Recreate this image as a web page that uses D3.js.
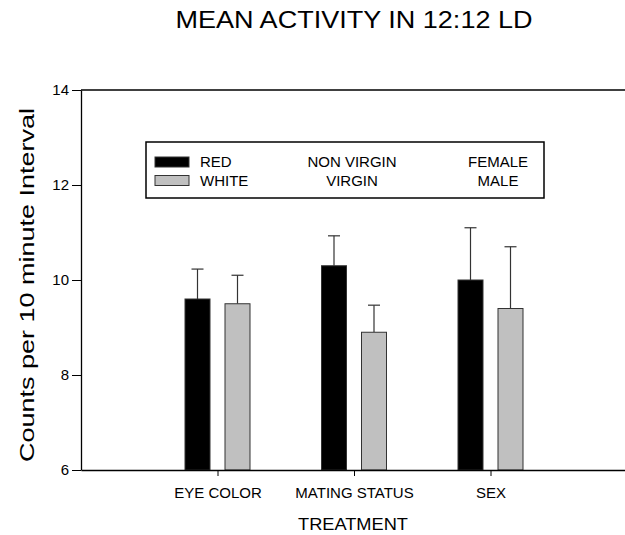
<!DOCTYPE html>
<head>
    <style>
        body { margin: 0; background: #fff; }
        svg text { font-family: "Liberation Sans", Arial, sans-serif; fill: #000; }
        .axis path, .axis line { stroke: #000; }
        .axis text { font-size: 15px; font-family: "Liberation Sans", Arial, sans-serif; }
    </style>
    <script src="https://d3js.org/d3.v7.min.js"></script>
</head>
<body>
    <svg width="625" height="535"></svg>
    <script>
        // data
        var categories = ["EYE COLOR", "MATING STATUS", "SEX"];
        var firstMeans = [9.6, 10.3, 10.0];
        var firstErr = [0.63, 0.63, 1.1];
        var secondMeans = [9.5, 8.9, 9.4];
        var secondErr = [0.6, 0.57, 1.3];
        var yTicks = [6, 8, 10, 12, 14];
        var legendRows = [
            ["RED", "NON VIRGIN", "FEMALE"],
            ["WHITE", "VIRGIN", "MALE"]
        ];

        var svg = d3.select("svg");
        var plotLeft = 81, plotRight = 627, plotTop = 90, plotBottom = 470;

        var x = d3.scaleLinear().domain([0, 4]).range([plotLeft, plotRight]);
        var y = d3.scaleLinear().domain([6, 14]).range([plotBottom, plotTop]);

        var barW = 25, offset = 20;

        // frame top line
        svg.append("line")
           .attr("x1", plotLeft).attr("x2", plotRight)
           .attr("y1", plotTop).attr("y2", plotTop)
           .attr("stroke", "#000").attr("stroke-width", 1.3);

        var series = [
            { means: firstMeans, err: firstErr, fill: "#000", dx: -offset },
            { means: secondMeans, err: secondErr, fill: "#c0c0c0", dx: offset }
        ];

        series.forEach(function(s) {
            var g = svg.append("g");
            categories.forEach(function(c, i) {
                var cx = x(i + 1) + s.dx;
                var yTop = y(s.means[i] + s.err[i]);
                // error bar (upper only)
                g.append("line")
                 .attr("x1", cx).attr("x2", cx)
                 .attr("y1", y(s.means[i])).attr("y2", yTop)
                 .attr("stroke", "#333").attr("stroke-width", 1.2);
                g.append("line")
                 .attr("x1", cx - 6).attr("x2", cx + 6)
                 .attr("y1", yTop).attr("y2", yTop)
                 .attr("stroke", "#333").attr("stroke-width", 1.2);
                g.append("rect")
                 .attr("x", cx - barW / 2)
                 .attr("y", y(s.means[i]))
                 .attr("width", barW)
                 .attr("height", y(6) - y(s.means[i]))
                 .attr("fill", s.fill)
                 .attr("stroke", "#333")
                 .attr("stroke-width", 1);
            });
        });

        svg.append("g")
           .attr("class", "axis")
           .attr("transform", "translate(" + plotLeft + ",0)")
           .call(d3.axisLeft(y).tickValues(yTicks).tickSize(9).tickSizeOuter(0).tickPadding(3))
           .call(function(g) { g.select(".domain").attr("stroke-width", 1.3); });

        svg.append("g")
           .attr("class", "axis")
           .attr("transform", "translate(0," + plotBottom + ")")
           .call(d3.axisBottom(x).tickValues([1, 2, 3])
                   .tickFormat(function(d) { return categories[d - 1]; })
                   .tickSize(6).tickSizeOuter(0).tickPadding(11))
           .call(function(g) { g.select(".domain").attr("stroke-width", 1.3); });

        // titles
        svg.append("text")
           .attr("x", 354).attr("y", 28)
           .attr("text-anchor", "middle")
           .attr("textLength", 357).attr("lengthAdjust", "spacingAndGlyphs")
           .style("font-size", "23px")
           .text("MEAN ACTIVITY IN 12:12 LD");

        svg.append("text")
           .attr("x", 353).attr("y", 530)
           .attr("text-anchor", "middle")
           .attr("textLength", 110).attr("lengthAdjust", "spacingAndGlyphs")
           .style("font-size", "16.5px")
           .text("TREATMENT");

        svg.append("text")
           .attr("transform", "translate(34,285) rotate(-90)")
           .attr("text-anchor", "middle")
           .attr("textLength", 354).attr("lengthAdjust", "spacingAndGlyphs")
           .style("font-size", "21px")
           .text("Counts per 10 minute Interval");

        // legend
        var lg = svg.append("g");
        lg.append("rect")
          .attr("x", 146).attr("y", 142)
          .attr("width", 398).attr("height", 56)
          .attr("fill", "#fff").attr("stroke", "#000").attr("stroke-width", 1.5);

        var colX = [200, 352, 498];
        var anchors = ["start", "middle", "middle"];
        legendRows.forEach(function(row, r) {
            var base = 167 + r * 18.5;
            lg.append("rect")
              .attr("x", 155).attr("y", base - 10)
              .attr("width", 34).attr("height", 10)
              .attr("fill", series[r].fill)
              .attr("stroke", "#333").attr("stroke-width", 1);
            row.forEach(function(t, k) {
                lg.append("text")
                  .attr("x", colX[k]).attr("y", base)
                  .attr("text-anchor", anchors[k])
                  .style("font-size", "15px")
                  .text(t);
            });
        });
    </script>
</body>
</html>
